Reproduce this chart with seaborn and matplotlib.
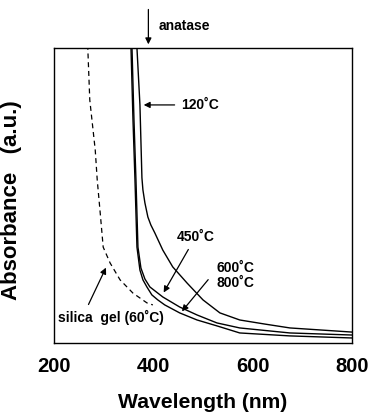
import numpy as np
import pandas as pd
import seaborn as sns
import matplotlib
matplotlib.use("Agg")
import matplotlib.pyplot as plt

# --- Data (wavelength in nm, absorbance in a.u.) ---
wl_120 = [366, 367, 373, 377, 379, 383, 389, 395, 403, 419, 439, 468, 500, 534, 574, 625, 675, 800]
abs_120 = [1.10, 1.00, 0.807, 0.560, 0.519, 0.475, 0.427, 0.400, 0.373, 0.315, 0.258,
           0.203, 0.146, 0.102, 0.078, 0.064, 0.051, 0.037]

wl_450 = [356, 357, 361, 365, 369, 375, 383, 393, 419, 453, 488, 528, 574, 675, 800]
abs_450 = [1.10, 1.00, 0.756, 0.553, 0.325, 0.254, 0.217, 0.190, 0.156, 0.122,
           0.095, 0.068, 0.051, 0.034, 0.027]

wl_600 = [354, 355, 359, 363, 367, 373, 379, 387, 397, 409, 423, 453, 488, 528, 574, 675, 800]
abs_600 = [1.10, 1.00, 0.756, 0.553, 0.325, 0.247, 0.214, 0.190, 0.163, 0.146,
           0.129, 0.102, 0.078, 0.058, 0.034, 0.024, 0.017]

wl_gel = [266, 268, 272, 283, 287, 293, 299, 313, 333, 359, 387, 399]
abs_gel = [1.10, 1.00, 0.824, 0.654, 0.553, 0.441, 0.325, 0.271, 0.214, 0.169, 0.136, 0.129]

x_ticks = [200, 400, 600, 800]

sns.set_style("white")
plt.rcParams['font.family'] = ['Liberation Sans', 'DejaVu Sans']
plt.rcParams['font.weight'] = 'bold'
plt.rcParams['text.color'] = 'black'
plt.rcParams['axes.labelcolor'] = 'black'

fig = plt.figure(figsize=(3.71, 4.12), dpi=100)
ax = fig.add_axes([0.1456, 0.1675, 0.8032, 0.716])

for wl, ab in [(wl_120, abs_120), (wl_450, abs_450), (wl_600, abs_600)]:
    sns.lineplot(x=wl, y=ab, ax=ax, color='black', linewidth=1.0, sort=False)
sns.lineplot(x=wl_gel, y=abs_gel, ax=ax, color='black', linewidth=0.9,
             linestyle=(0, (4, 3)), sort=False)

ax.set_xlim(200, 800)
ax.set_ylim(0, 1)
ax.set_xticks(x_ticks)
ax.set_xticklabels([str(t) for t in x_ticks], fontsize=14.5, fontweight='bold')
ax.set_yticks([])
ax.tick_params(axis='x', direction='in', length=4, width=0.8, pad=10, colors='black')
for s in ax.spines.values():
    s.set_color('black')
    s.set_linewidth(1.0)

ax.set_xlabel('Wavelength (nm)', fontsize=15.2, fontweight='bold', labelpad=12)
ax.set_ylabel('Absorbance   (a.u.)', fontsize=16, fontweight='bold')
ax.yaxis.set_label_coords(-0.107, 0.485)

arrow = dict(arrowstyle='-|>', color='black', lw=0.9, mutation_scale=9)

# anatase arrow above the frame
ax.annotate('', xy=(390, 1.003), xytext=(390, 1.14), xycoords='data',
            arrowprops=arrow, annotation_clip=False)
ax.text(411, 1.075, 'anatase', fontsize=10, fontweight='bold', va='center',
        ha='left', clip_on=False)

ax.annotate('120˚C', xy=(375, 0.807), xytext=(455, 0.807), fontsize=10,
            fontweight='bold', va='center', ha='left', arrowprops=arrow)

ax.annotate('450˚C', xy=(418, 0.163), xytext=(447, 0.36), fontsize=10,
            fontweight='bold', va='center', ha='left', arrowprops=arrow)
ax.annotate('', xy=(454, 0.100), xytext=(514, 0.222), arrowprops=arrow)
ax.text(528, 0.255, '600˚C', fontsize=10, fontweight='bold', va='center', ha='left')
ax.text(528, 0.203, '800˚C', fontsize=10, fontweight='bold', va='center', ha='left')

ax.annotate('', xy=(307, 0.264), xytext=(267, 0.122), arrowprops=arrow)
ax.text(208, 0.088, 'silica  gel (60˚C)', fontsize=10, fontweight='bold',
        va='center', ha='left')

fig.savefig('out.png', dpi=100)
